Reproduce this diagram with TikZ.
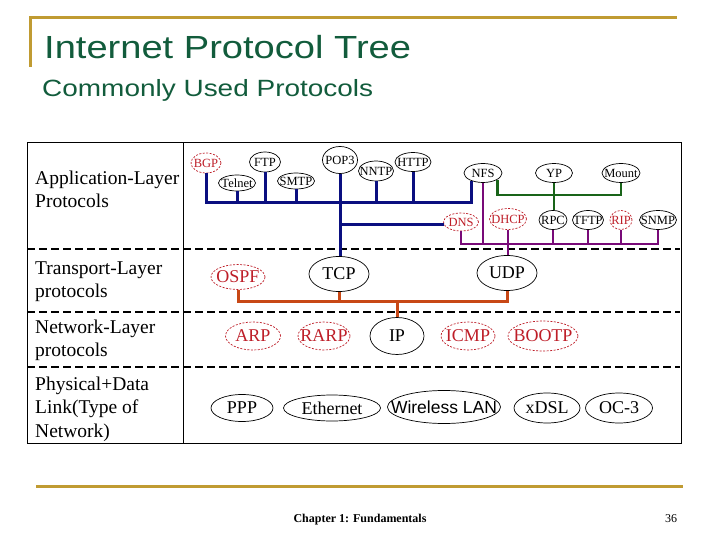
\documentclass[tikz,border=0pt]{standalone}
\usepackage{fontspec}
\setmainfont{Liberation Serif}
\newfontfamily\headfont[FakeStretch=1.19]{Liberation Sans}
\newfontfamily\lanfont{Liberation Sans}
\usepackage{xcolor}
\usetikzlibrary{shapes.geometric}

\definecolor{slidegold}{RGB}{192,155,50}
\definecolor{slidegreen}{RGB}{18,92,60}
\definecolor{navybus}{RGB}{10,15,128}
\definecolor{greenbus}{RGB}{25,100,25}
\definecolor{purplebus}{RGB}{120,10,120}
\definecolor{rustbus}{RGB}{200,72,22}
\definecolor{optred}{RGB}{190,30,40}

\begin{document}
\begin{tikzpicture}[
  x=1pt, y=-1pt,
  proto/.style={ellipse, draw, line width=0.7pt, inner sep=0pt,
    execute at begin node={\hbox to 0pt\bgroup\hss},
    execute at end node={\hss\egroup}},
  optional/.style={proto, draw=optred, text=optred, dash pattern=on 2pt off 1.5pt},
  sz/.style 2 args={minimum width=#1, minimum height=#2},
  small/.style={font=\fontsize{12.5}{14}\selectfont},
  large/.style={font=\fontsize{18}{21}\selectfont},
  layerlabel/.style={anchor=north west, inner sep=0pt, align=left, font=\fontsize{19.5}{23.5}\selectfont},
  navy/.style={navybus, line width=3pt},
  leafgreen/.style={greenbus, line width=2.6pt},
  plum/.style={purplebus, line width=2.6pt},
  rust/.style={rustbus, line width=3pt},
  layersep/.style={line width=2.5pt, dash pattern=on 8pt off 4pt},
  goldrule/.style={slidegold, line width=3pt},
]

\fill[white] (0,0) rectangle (720,540);
\useasboundingbox (0,0) rectangle (720,540);

%% ── Slide frame and titles ───────────────────────────────────────────────────
\draw[goldrule] (677,18) -- (30,18) -- (30,67);
\draw[goldrule] (36,486) -- (683,486);
\node[anchor=base west, inner sep=0pt, text=slidegreen, font=\headfont\fontsize{32}{36}\selectfont]
  (title) at (44,58.5) {Internet Protocol Tree};
\node[anchor=base west, inner sep=0pt, text=slidegreen, font=\headfont\fontsize{23.5}{28}\selectfont]
  (subtitle) at (42,97) {Commonly Used Protocols};

%% ── Table ────────────────────────────────────────────────────────────────────
\draw[line width=1pt] (27,143) rectangle (681,443);
\draw[line width=1pt] (183,143) -- (183,443);
\foreach \yy in {249,312,367} {
  \draw[layersep] (27,\yy) -- (680,\yy);
}

%% ── Layer labels ─────────────────────────────────────────────────────────────
\node[layerlabel] (applbl)  at (35,170.5) {Application-Layer\\Protocols};
\node[layerlabel] (translbl) at (35,261.5) {Transport-Layer\\protocols};
\node[layerlabel] (netlbl)  at (35,319.5) {Network-Layer\\protocols};
\node[layerlabel] (physlbl) at (35,376.5) {Physical+Data\\Link(Type of\\Network)};

%% ── Application layer ────────────────────────────────────────────────────────
\node[optional, small, sz={30}{20}] (bgp)    at (206,163) {BGP};
\node[proto,    small, sz={37}{16}] (telnet) at (237,183) {Telnet};
\node[proto,    small, sz={31}{20}] (ftp)    at (265,162) {FTP};
\node[proto,    small, sz={37}{16}] (smtp)   at (296,181) {SMTP};
\node[proto,    small, sz={35}{27}] (pop3)   at (340,160) {POP3};
\node[proto,    small, sz={35}{20}] (nntp)   at (376,171) {NNTP};
\node[proto,    small, sz={36}{19}] (http)   at (413,162) {HTTP};
\node[proto,    small, sz={38}{19}] (nfs)    at (483,173) {NFS};
\node[proto,    small, sz={37}{19}] (yp)     at (554,173) {YP};
\node[proto,    small, sz={38}{19}] (mount)  at (621,173) {Mount};
\node[optional, small, sz={35}{18}] (dns)    at (461,222) {DNS};
\node[optional, small, sz={37}{21}] (dhcp)   at (508,219) {DHCP};
\node[proto,    small, sz={28}{19}] (rpc)    at (553,220) {RPC};
\node[proto,    small, sz={31}{19}] (tftp)   at (588,220) {TFTP};
\node[optional, small, sz={22}{19}] (rip)    at (621,220) {RIP};
\node[proto,    small, sz={37}{19}] (snmp)   at (658,220) {SNMP};

%% ── Transport layer ──────────────────────────────────────────────────────────
\node[optional, large, sz={54}{25}] (ospf) at (238,277) {OSPF};
\node[proto,    large, sz={60}{35}] (tcp)  at (339,274) {TCP};
\node[proto,    large, sz={60}{35}] (udp)  at (507,273) {UDP};

%% ── Network layer ────────────────────────────────────────────────────────────
\node[optional, large, sz={55}{28}] (arp)   at (253,336) {ARP};
\node[optional, large, sz={52}{28}] (rarp)  at (324,336) {RARP};
\node[proto,    large, sz={54}{37}] (ip)    at (397,336) {IP};
\node[optional, large, sz={54}{28}] (icmp)  at (468,336) {ICMP};
\node[optional, large, sz={70}{30}] (bootp) at (543,336) {BOOTP};

%% ── Physical + data link ─────────────────────────────────────────────────────
\node[proto, large, sz={62}{27}]  (ppp)  at (242,408) {PPP};
\node[proto, large, sz={97}{26}]  (eth)  at (332,408) {Ethernet};
\node[proto, sz={113}{33}, font=\lanfont\fontsize{17.5}{20}\selectfont] (wlan) at (444,407) {Wireless LAN};
\node[proto, large, sz={66}{30}]  (xdsl) at (547,408) {xDSL};
\node[proto, large, sz={67}{30}]  (oc3)  at (619,408) {OC-3};

%% ── Bus levels ───────────────────────────────────────────────────────────────
\coordinate (busA) at (0,203);
\coordinate (busG) at (0,195);
\coordinate (busP) at (0,244);
\coordinate (busR) at (0,301);

%% ── TCP tree (navy) ──────────────────────────────────────────────────────────
\draw[navy] (bgp.south) |- (busA -| nfs.215) -- (nfs.215);
\foreach \n in {telnet,ftp,smtp,nntp,http} {
  \draw[navy] (\n.south) -- (\n.south |- busA);
}
\draw[navy] (pop3.south) -- (pop3.south |- tcp.north);
\draw[navy] (dns.190 -| pop3.south) -- (dns.190);

%% ── RPC tree (green) ─────────────────────────────────────────────────────────
\draw[leafgreen] (nfs.-25) -- (nfs.-25 |- busG) -| (mount.south);
\draw[leafgreen] (yp.south) -- (yp.south |- rpc.north);

%% ── UDP tree (purple) ────────────────────────────────────────────────────────
\draw[plum] (dns.south) |- (busP -| snmp.south) -- (snmp.south);
\foreach \n in {nfs,rpc,tftp,rip} {
  \draw[plum] (\n.south) -- (\n.south |- busP);
}
\draw[plum] (dhcp.south) -- (dhcp.south |- udp.north);

%% ── IP tree (rust) ───────────────────────────────────────────────────────────
\draw[rust] (ospf.south) |- (busR -| udp.south) -- (udp.south);
\draw[rust] (tcp.south) -- (tcp.south |- busR);
\draw[rust] (ip.north |- busR) -- (ip.north);

%% ── Footer ───────────────────────────────────────────────────────────────────
\node[anchor=base, font=\bfseries\fontsize{12}{14}\selectfont] (chapter) at (360,522) {Chapter 1: Fundamentals};
\node[anchor=base, font=\fontsize{12}{14}\selectfont] (pagenum) at (671,522) {36};

\end{tikzpicture}
\end{document}
